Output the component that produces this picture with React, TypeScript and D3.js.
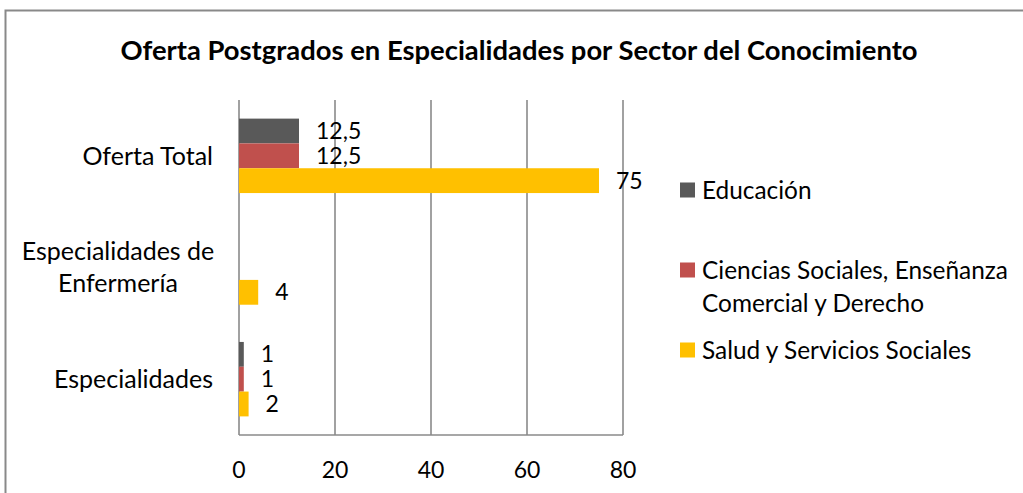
import React from "react";
import * as d3 from "d3";

const categories = ["Oferta Total", "Especialidades de Enfermería", "Especialidades"];
const categoryLines = [["Oferta Total"], ["Especialidades de", "Enfermería"], ["Especialidades"]];
const seriesNames = ["Educación", "Ciencias Sociales, Enseñanza Comercial y Derecho", "Salud y Servicios Sociales"];
const legendLines = [["Educación"], ["Ciencias Sociales, Enseñanza", "Comercial y Derecho"], ["Salud y Servicios Sociales"]];
const educacion: (number | null)[] = [12.5, null, 1];
const cienciasSociales: (number | null)[] = [12.5, null, 1];
const salud: (number | null)[] = [75, 4, 2];
const xTicks = [0, 20, 40, 60, 80];
const colors = ["#595959", "#C0504D", "#FFC000"];

const FONT = "Lato, 'Open Sans', sans-serif";

export default function App() {
  const W = 1023, H = 493;
  const x = d3.scaleLinear().domain([0, 80]).range([239, 623]);
  const y = d3.scaleBand<string>().domain(categories).range([100, 435]).paddingInner(1 / 3).paddingOuter(1 / 6);
  const yInner = d3.scaleBand<string>().domain(seriesNames).range([0, y.bandwidth()]);
  const series = [educacion, cienciasSociales, salud];
  const fmt = (v: number) => String(v).replace(".", ",");
  const legendY = [190, 270, 350];

  return (
    <svg width={W} height={H} style={{ position: "absolute", left: 0, top: 0, background: "#fff" }} fontFamily={FONT}>
      <rect x={0} y={0} width={W} height={H} fill="#fff" />
      <path d={`M5.5,${H + 5} V10.5 H${W + 5}`} fill="none" stroke="#898989" strokeWidth={2} />
      <text x={519} y={60} textAnchor="middle" fontWeight="bold" fontSize={27.4} fill="#000">
        Oferta Postgrados en Especialidades por Sector del Conocimiento
      </text>
      {xTicks.map((t) => (
        <line key={t} x1={x(t)} x2={x(t)} y1={100} y2={435} stroke="#8a8a8a" strokeWidth={1.6} />
      ))}
      <line x1={x(0)} x2={x(80)} y1={435} y2={435} stroke="#8a8a8a" strokeWidth={1.6} />
      {xTicks.map((t) => (
        <text key={"l" + t} x={x(t)} y={470} dy="0.35em" textAnchor="middle" fontSize={23} fill="#000">
          {t}
        </text>
      ))}
      {series.map((vals, si) =>
        categories.map((c, ci) => {
          const v = vals[ci];
          if (v === null) return null;
          const by = (y(c) as number) + (yInner(seriesNames[si]) as number);
          const bh = yInner.bandwidth();
          return (
            <g key={si + "-" + ci}>
              <rect x={x(0)} y={by} width={x(v) - x(0)} height={bh} fill={colors[si]} />
              <text x={x(v) + 17} y={by + bh / 2} dy="0.35em" fontSize={23} fill="#000">
                {fmt(v)}
              </text>
            </g>
          );
        })
      )}
      {categories.map((c, ci) => {
        const lines = categoryLines[ci];
        const cy = (y(c) as number) + y.bandwidth() / 2;
        const multi = lines.length > 1;
        return lines.map((ln, li) => (
          <text
            key={c + li}
            x={multi ? 118 : 213}
            y={cy + (li - (lines.length - 1) / 2) * 32}
            dy="0.35em"
            textAnchor={multi ? "middle" : "end"}
            fontSize={25}
            fill="#000"
          >
            {ln}
          </text>
        ));
      })}
      {legendLines.map((lines, i) => (
        <g key={"lg" + i}>
          <rect x={680} y={legendY[i] - 7.5} width={15} height={15} fill={colors[i]} />
          {lines.map((ln, li) => (
            <text key={li} x={702} y={legendY[i] + li * 33} dy="0.35em" fontSize={24.4} fill="#000">
              {ln}
            </text>
          ))}
        </g>
      ))}
    </svg>
  );
}
